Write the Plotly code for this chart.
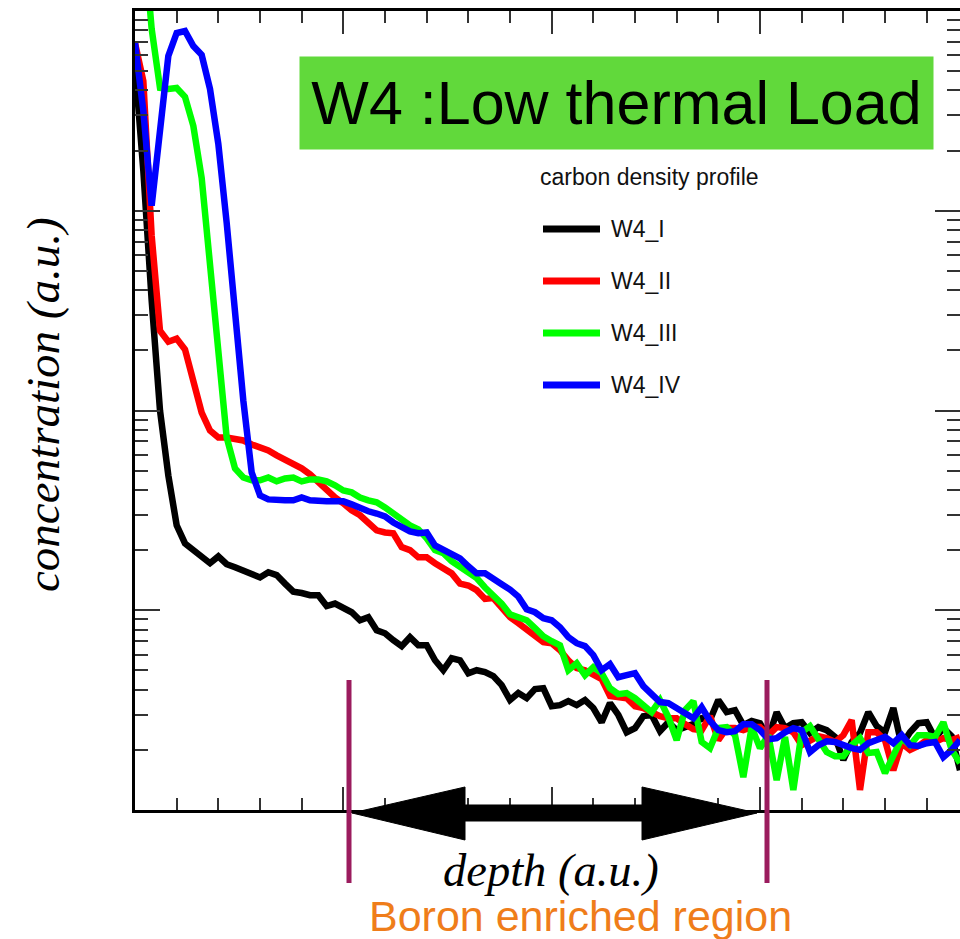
import plotly.graph_objects as go

# ---------------- data ----------------
depth = [round(0.04 * i, 2) for i in range(100)]  # regular depth grid (a.u.)

series_names = ["W4_I", "W4_II", "W4_III", "W4_IV"]
series_colors = ["#000000", "#ff0000", "#00ff00", "#0000ff"]

w4_i = [5400, 1585, 355, 100, 47.3, 26.6, 21.6, 20.0, 18.8, 17.2,
        18.6, 17.0, 16.4, 15.8, 15.3, 14.6, 15.5, 15.0, 13.6, 12.4,
        12.2, 11.9, 11.9, 10.5, 10.8, 10.35, 9.77, 8.91, 9.23, 7.94,
        7.67, 7.08, 6.61, 7.33, 6.68, 6.68, 5.62, 5.01, 5.75, 5.62,
        4.84, 5.01, 4.90, 4.68, 4.22, 3.55, 3.85, 3.63, 4.03, 4.07,
        3.31, 3.35, 3.51, 3.35, 3.55, 3.24, 2.75, 3.43, 2.99, 2.45,
        2.57, 2.95, 2.99, 2.48, 2.75, 2.51, 2.60, 2.69, 2.88, 2.82,
        3.55, 3.09, 3.16, 2.66, 2.79, 2.72, 2.29, 3.09, 2.57, 2.72,
        2.75, 2.43, 2.60, 2.51, 2.32, 1.78, 2.19, 2.43, 3.09, 2.63,
        2.45, 3.24, 2.11, 2.45, 2.72, 2.75, 2.29, 2.57, 2.34, 1.58]

w4_ii = [6920, 4470, 750, 251, 221, 229, 202, 138, 97.7, 79.4,
         73.3, 73.3, 72.4, 70.8, 67.6, 65.3, 63.1, 59.6, 56.9, 54.3,
         51.3, 47.9, 43.7, 40.3, 36.7, 34.3, 31.6, 29.9, 27.5, 25.1,
         24.5, 24.3, 20.7, 20.0, 18.4, 18.4, 17.2, 16.2, 15.3, 13.6,
         13.3, 12.6, 11.4, 11.5, 10.35, 9.23, 8.61, 7.94, 7.50, 6.92,
         6.84, 6.31, 5.62, 5.13, 5.01, 4.73, 4.52, 3.72, 3.67, 3.63,
         3.31, 3.24, 3.09, 2.95, 2.88, 2.88, 2.69, 2.54, 2.51, 2.95,
         2.24, 2.57, 2.57, 2.51, 2.60, 2.60, 2.37, 2.60, 2.57, 2.45,
         2.11, 2.21, 2.34, 2.29, 2.19, 2.37, 2.82, 1.26, 2.45, 2.45,
         2.24, 1.58, 2.16, 2.00, 2.09, 2.24, 2.19, 2.29, 2.24, 2.32]

w4_iii = [60000, 25000, 8130, 4120, 4070, 4120, 3715, 2660, 1460, 531,
          168, 73.3, 51.3, 46.2, 44.7, 44.7, 46.2, 44.2, 45.7, 46.2,
          44.2, 45.2, 45.2, 44.2, 42.2, 39.8, 38.9, 36.7, 35.5, 34.7,
          32.7, 30.5, 28.5, 26.6, 25.4, 22.9, 20.0, 19.3, 17.6, 16.6,
          15.7, 14.5, 13.0, 11.9, 10.8, 9.55, 9.23, 8.91, 8.13, 7.41,
          7.00, 6.68, 5.01, 5.43, 4.73, 5.19, 4.84, 4.07, 3.80, 3.85,
          3.63, 3.31, 3.09, 3.55, 2.92, 2.24, 3.16, 3.51, 2.19, 2.04,
          2.57, 2.60, 2.37, 1.46, 2.60, 2.04, 2.37, 1.41, 2.32, 1.26,
          2.45, 2.63, 2.29, 1.95, 1.86, 1.86, 2.11, 2.29, 1.93, 1.95,
          1.53, 1.88, 2.29, 2.11, 2.37, 2.37, 2.32, 2.75, 2.00, 1.72]

w4_iv = [6920, 3160, 1060, 2660, 5960, 7760, 7940, 6680, 6030, 4070,
         2160, 871, 299, 112, 49.0, 37.6, 35.9, 35.5, 35.5, 35.5,
         36.7, 35.5, 35.1, 35.1, 35.1, 35.1, 33.9, 32.4, 31.3, 30.5,
         29.5, 27.5, 26.0, 24.8, 24.3, 24.5, 21.1, 20.2, 19.3, 18.2,
         16.6, 15.3, 15.3, 14.5, 13.5, 12.7, 11.7, 10.1, 9.77, 9.12,
         8.91, 8.22, 7.33, 6.84, 6.61, 5.96, 5.01, 5.37, 4.62, 4.73,
         4.84, 4.17, 3.76, 3.47, 3.43, 3.24, 3.02, 2.88, 3.27, 2.79,
         2.51, 2.45, 2.48, 2.69, 2.69, 2.51, 2.26, 2.29, 2.45, 2.57,
         2.51, 1.95, 2.11, 2.21, 2.19, 2.11, 2.04, 2.00, 2.16, 2.24,
         2.32, 2.16, 2.37, 2.11, 2.09, 2.16, 2.19, 1.84, 2.00, 2.24]

series_values = [w4_i, w4_ii, w4_iii, w4_iv]

# ---------------- layout geometry (pixels) ----------------
W, H = 960, 939
L, R, T, B = 135, 960, 11, 810
X_RANGE = [0, 3.96]
Y_RANGE = [0, 4]  # log10


def px(xp):
    return (xp - L) / (R - L)


def py(yp):
    return (B - yp) / (B - T)


fig = go.Figure()
for name, color, vals in zip(series_names, series_colors, series_values):
    fig.add_trace(go.Scatter(x=depth, y=vals, mode="lines", name=name,
                             line=dict(color=color, width=6.5),
                             showlegend=False, hoverinfo="skip"))
# helper trace for right-hand tick axis
fig.add_trace(go.Scatter(x=depth[:1], y=w4_i[-1:], yaxis="y2", mode="lines",
                         line=dict(width=0), showlegend=False, hoverinfo="skip"))

tickc = "#333333"
fig.update_layout(
    width=W, height=H,
    margin=dict(l=L, r=W - R, t=T, b=H - B, pad=0),
    paper_bgcolor="white", plot_bgcolor="white",
    showlegend=False,
    xaxis=dict(range=X_RANGE, showgrid=False, zeroline=False, showticklabels=False,
               showline=True, linecolor="black", linewidth=2.5, mirror="ticks",
               ticks="inside", ticklen=23, tickwidth=2, tickcolor=tickc,
               tick0=0, dtick=1,
               minor=dict(ticks="inside", ticklen=12, tickwidth=2, tickcolor=tickc,
                          dtick=0.2, showgrid=False)),
    yaxis=dict(type="log", range=Y_RANGE, showgrid=False, zeroline=False,
               showticklabels=False, showline=True, linecolor="black", linewidth=2.5,
               ticks="inside", ticklen=25, tickwidth=2, tickcolor=tickc, dtick=1,
               minor=dict(ticks="inside", ticklen=13, tickwidth=2, tickcolor=tickc,
                          dtick="D1", showgrid=False)),
    yaxis2=dict(type="log", range=Y_RANGE, overlaying="y", side="right",
                showgrid=False, zeroline=False, showticklabels=False, showline=False,
                ticks="inside", ticklen=25, tickwidth=2, tickcolor=tickc, dtick=1,
                minor=dict(ticks="inside", ticklen=13, tickwidth=2, tickcolor=tickc,
                           dtick="D1", showgrid=False)),
)

sans = "Liberation Sans, Arial, Helvetica, sans-serif"
serif = "Liberation Serif, Times New Roman, serif"

annotations = []
# title box
annotations.append(dict(text="W4 :Low thermal Load", x=px(616.5), y=py(103),
                        xref="paper", yref="paper", showarrow=False,
                        font=dict(family=sans, size=61, color="black"),
                        bgcolor="#61d93b", width=633, height=92, borderpad=0,
                        xanchor="center", yanchor="middle"))
# legend title
annotations.append(dict(text="carbon density profile", x=px(538), y=py(177),
                        xref="paper", yref="paper", showarrow=False,
                        font=dict(family=sans, size=23, color="#111111"),
                        xanchor="left", yanchor="middle"))
legend_rows = [229, 281, 333, 385]
shapes = []
for name, color, yy in zip(series_names, series_colors, legend_rows):
    shapes.append(dict(type="line", xref="paper", yref="paper",
                       x0=px(543), x1=px(600), y0=py(yy), y1=py(yy),
                       line=dict(color=color, width=7)))
    annotations.append(dict(text=name, x=px(609), y=py(yy), xref="paper", yref="paper",
                            showarrow=False, xanchor="left", yanchor="middle",
                            font=dict(family=sans, size=23, color="#111111")))
# axis titles
annotations.append(dict(text="<i>concentration (a.u.)</i>", x=px(43), y=py(405),
                        xref="paper", yref="paper", showarrow=False, textangle=-90,
                        font=dict(family=serif, size=47, color="black"),
                        xanchor="center", yanchor="middle"))
annotations.append(dict(text="<i>depth (a.u.)</i>", x=px(551), y=py(870),
                        xref="paper", yref="paper", showarrow=False,
                        font=dict(family=serif, size=46.5, color="black"),
                        xanchor="center", yanchor="middle"))
annotations.append(dict(text="Boron enriched region", x=px(580), y=py(916),
                        xref="paper", yref="paper", showarrow=False,
                        font=dict(family=sans, size=43, color="#ef7d1a"),
                        xanchor="center", yanchor="middle"))

# boron region markers
boron_edges_px = [349, 767]
for xe in boron_edges_px:
    shapes.append(dict(type="line", xref="paper", yref="paper", layer="above",
                       x0=px(xe), x1=px(xe), y0=py(680), y1=py(883),
                       line=dict(color="#9b1c5e", width=5)))
# double arrow
arrow_pts = [(352, 813), (465, 787), (465, 805), (642, 805), (642, 787), (757, 813),
             (642, 840), (642, 821), (465, 821), (465, 840)]
path = "M " + " L ".join(f"{px(a):.5f},{py(b):.5f}" for a, b in arrow_pts) + " Z"
shapes.append(dict(type="path", xref="paper", yref="paper", path=path, layer="above",
                   fillcolor="black", line=dict(color="black", width=1)))

fig.update_layout(annotations=annotations, shapes=shapes)
fig.write_html("out.html")
